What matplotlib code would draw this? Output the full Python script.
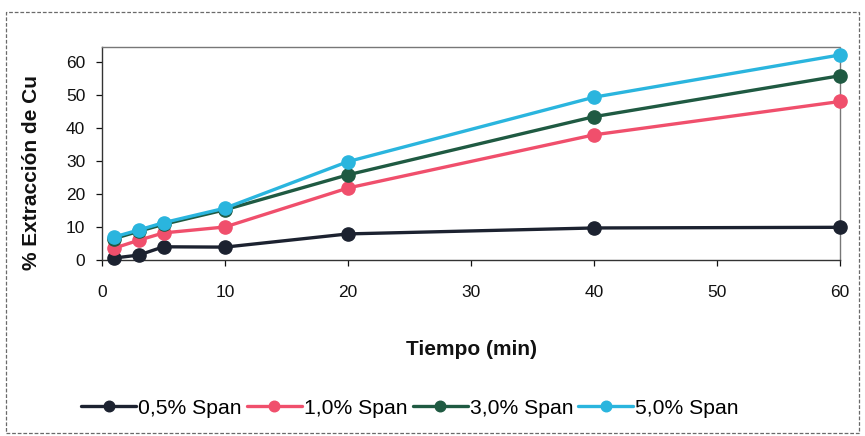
import matplotlib
matplotlib.use("Agg")
import matplotlib.pyplot as plt
from matplotlib.patches import Rectangle

plt.rcParams['font.family'] = ['Liberation Sans', 'DejaVu Sans']

# Time points (min)
tiempo = [1, 3, 5, 10, 20, 40, 60]

# Copper extraction (%) for each Span concentration
span_05 = [0.6, 1.5, 4.0, 3.9, 7.9, 9.7, 9.9]
span_10 = [3.6, 6.0, 8.2, 10.0, 21.8, 37.9, 48.0]
span_30 = [6.5, 8.7, 10.8, 15.2, 25.8, 43.4, 55.8]
span_50 = [7.0, 9.1, 11.3, 15.7, 29.8, 49.3, 62.1]

series_labels = ["0,5% Span", "1,0% Span", "3,0% Span", "5,0% Span"]
series_values = [span_05, span_10, span_30, span_50]
series_colors = ["#1c2230", "#f04f6c", "#1f5a42", "#2ab5de"]

x_ticks = [0, 10, 20, 30, 40, 50, 60]
y_ticks = [0, 10, 20, 30, 40, 50, 60]

W, H = 865, 436
fig = plt.figure(figsize=(W / 100, H / 100), dpi=100)
fig.patch.set_facecolor("white")

# Outer chart frame
fig.patches.append(Rectangle((6 / W, 1 - 433 / H), (859 - 6) / W, (433 - 12) / H,
                             transform=fig.transFigure, fill=False,
                             edgecolor="#6a6a6a", lw=0.9, ls=(0, (3, 1.5))))

ax = fig.add_axes([102 / W, 1 - 260 / H, (840 - 102) / W, (260 - 47) / H])

for vals, lab, col in zip(series_values, series_labels, series_colors):
    ax.plot(tiempo, vals, color=col, lw=2.4, marker="o", ms=9.5,
            markeredgecolor=col, markerfacecolor=col, label=lab,
            solid_capstyle="round", clip_on=False, zorder=3)

ax.set_xlim(0, 60)
ax.set_ylim(0, 64.5)
ax.set_xticks(x_ticks)
ax.set_yticks(y_ticks)
ax.tick_params(axis="both", labelsize=12.5, colors="#111111", length=4,
               width=0.9, direction="out")
ax.tick_params(axis="x", pad=14)
ax.tick_params(axis="y", pad=8)

for side in ("left", "bottom"):
    ax.spines[side].set_color("#333333")
    ax.spines[side].set_linewidth(1.0)
for side in ("top", "right"):
    ax.spines[side].set_color("#777777")
    ax.spines[side].set_linewidth(1.0)
    ax.spines[side].set_linestyle((0, (1, 1)))

fig.text(32 / W, 1 - 172 / H, "% Extracción de Cu", rotation=90,
         ha="center", va="center", fontsize=15, fontweight="bold", color="#111111")
fig.text(471 / W, 1 - 349 / H, "Tiempo (min)", ha="center", va="center",
         fontsize=15, fontweight="bold", color="#111111")

handles, labels = ax.get_legend_handles_labels()
leg = fig.legend(handles, labels, loc="center", bbox_to_anchor=(410 / W, 1 - 408 / H),
                 ncol=4, frameon=False, fontsize=15.2, handlelength=2.6,
                 handletextpad=0.1, columnspacing=0.25, markerscale=0.8)

fig.savefig("out.png", dpi=100, facecolor="white")
